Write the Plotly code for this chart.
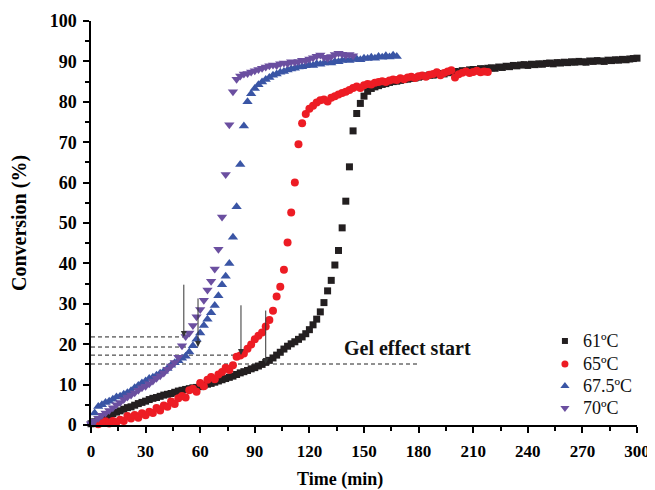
import plotly.graph_objects as go

# ---------------- data ----------------
t61 = list(range(0, 301, 2))
c61 = [0.3, 0.8, 1.2, 1.5, 2.0, 2.4, 2.8, 3.2, 3.5, 3.9, 4.3, 4.5, 4.9, 5.3, 5.6, 5.9, 6.3, 6.6, 6.8, 7.1,
       7.4, 7.6, 7.8, 8.1, 8.4, 8.6, 8.8, 9.0, 9.2, 9.3, 9.5, 9.8, 10.1, 10.3, 10.6, 10.9, 11.2, 11.5, 11.8, 12.1,
       12.5, 12.9, 13.2, 13.5, 13.9, 14.2, 14.6, 15.0, 15.5, 16.0, 16.6, 17.3, 18.0, 18.8, 19.5, 20.1, 20.6, 21.2, 21.8, 22.6,
       23.6, 24.8, 26.2, 28.0, 30.3, 33.2, 35.8, 39.6, 43.2, 48.8, 55.4, 63.9, 72.8, 77.1, 79.6, 81.4, 82.6, 83.3, 83.7, 84.0,
       84.3, 84.5, 84.8, 85.0, 85.1, 85.3, 85.5, 85.6, 85.8, 85.9, 86.1, 86.3, 86.4, 86.6, 86.6, 86.8, 87.0, 86.9, 87.2, 87.3,
       87.5, 87.4, 87.7, 87.6, 87.9, 88.0, 87.9, 88.2, 88.1, 88.3, 88.4, 88.3, 88.6, 88.5, 88.8, 88.7, 89.0, 88.9, 89.1, 89.2,
       89.0, 89.3, 89.2, 89.4, 89.3, 89.5, 89.6, 89.4, 89.7, 89.6, 89.8, 89.7, 89.9, 89.8, 90.0, 89.9, 89.8, 90.1, 90.0, 90.2,
       90.1, 90.0, 90.3, 90.2, 90.4, 90.3, 90.5, 90.4, 90.6, 90.7, 90.8]

t65 = list(range(4, 219, 2))
c65 = [0.2, 0.5, 0.9, 0.4, 1.0, 0.7, 1.3, 1.0, 2.2, 1.6, 2.5, 1.8, 2.9, 2.4, 3.3, 3.0, 4.2, 3.6, 4.8, 4.5,
       5.8, 5.2, 6.6, 7.2, 6.8, 8.6, 9.0, 8.2, 10.4, 9.6, 11.2, 11.9, 11.3, 12.5, 13.1, 14.2, 13.6, 14.8, 16.9, 17.2,
       17.7, 18.9, 19.9, 21.2, 22.1, 22.9, 24.4, 26.0, 28.3, 31.8, 34.2, 38.4, 45.2, 52.6, 60.0, 69.5, 74.7, 77.0, 78.3, 79.0,
       79.8, 80.4, 80.6, 80.1, 81.0, 81.4, 81.8, 82.2, 82.5, 82.9, 83.4, 83.8, 83.4, 84.1, 84.4, 84.3, 84.7, 84.9, 85.1, 84.9,
       85.3, 85.5, 85.4, 85.8, 85.6, 86.0, 86.2, 85.9, 86.3, 86.5, 86.2, 86.7, 86.9, 87.3, 86.6, 87.1, 87.5, 87.8, 86.0, 86.8,
       87.2, 87.5, 87.1, 87.4, 87.7, 87.3, 87.5, 87.4]

t675 = list(range(0, 169, 2))
c675 = [0.5, 3.0, 4.6, 5.0, 5.6, 5.9, 6.4, 6.9, 7.1, 7.6, 8.0, 8.5, 9.2, 9.8, 10.4, 10.9, 11.5, 11.8, 12.3, 12.8,
        13.3, 14.0, 14.8, 15.4, 15.9, 16.5, 17.0, 18.1, 19.6, 21.2, 22.8, 24.6, 26.2, 27.8, 29.6, 32.0, 34.7, 36.8, 40.0, 46.5,
        54.0, 64.5, 74.0, 80.0, 82.0, 83.3, 84.2, 84.9, 85.5, 86.0, 86.6, 86.9, 87.3, 87.5, 87.9, 88.1, 88.3, 88.6, 88.7, 88.9,
        89.1, 89.0, 89.4, 89.3, 89.6, 89.7, 89.6, 90.0, 89.9, 90.2, 90.4, 90.2, 90.5, 90.6, 90.4, 90.8, 90.7, 91.0, 90.8, 91.2,
        91.0, 91.4, 91.1, 91.5, 91.2]

t70 = list(range(0, 145, 2))
c70 = [0.3, 1.0, 1.7, 2.4, 3.0, 3.6, 4.3, 5.0, 5.6, 6.3, 6.9, 7.4, 8.0, 8.6, 9.2, 9.6, 10.2, 10.9, 11.6, 12.2,
       12.9, 13.8, 14.6, 15.5, 16.8, 19.6, 21.9, 22.8, 24.6, 26.8, 28.6, 30.9, 33.4, 35.6, 38.6, 43.5, 51.5, 62.0, 74.3, 82.5,
       85.6, 86.4, 86.9, 87.0, 87.4, 87.7, 88.0, 88.3, 88.6, 88.9, 89.1, 89.0, 89.4, 89.6, 89.5, 89.9, 89.8, 90.0, 90.3, 90.2,
       90.6, 90.9, 91.3, 91.6, 91.0, 90.8, 91.2, 91.7, 92.0, 91.8, 91.5, 91.7, 91.4]

series_names = ["61ºC", "65ºC", "67.5ºC", "70ºC"]

# gel-effect markers
gel_levels = [21.8, 19.3, 17.3, 15.1]
gel_line_end = [51, 58.8, 82.4, 180]
arrow_t = [51, 58.8, 82.4, 96]
arrow_top = [35.1, 31.7, 30.0, 28.7]

x_ticks = [0, 30, 60, 90, 120, 150, 180, 210, 240, 270, 300]
y_ticks = [0, 10, 20, 30, 40, 50, 60, 70, 80, 90, 100]

# ---------------- figure ----------------
FONT = "Liberation Serif, Times New Roman, serif"
styles = [
    dict(symbol="square", color="#231f20", size=7, lsize=6),
    dict(symbol="circle", color="#ed1c24", size=8, lsize=7),
    dict(symbol="triangle-up", color="#3a55a5", size=9, lsize=8),
    dict(symbol="triangle-down", color="#6b4fa0", size=9, lsize=8),
]

fig = go.Figure()

# dashed lines
for lvl, xe in zip(gel_levels, gel_line_end):
    fig.add_shape(type="line", x0=0, x1=xe, y0=lvl, y1=lvl, xref="x", yref="y",
                  line=dict(color="#222", width=1, dash="4px,3px"), layer="below")

for (tx, cy), name, st in zip([(t61, c61), (t65, c65), (t675, c675), (t70, c70)], series_names, styles):
    fig.add_trace(go.Scatter(
        x=tx, y=cy, mode="markers", name=name, cliponaxis=False, showlegend=False,
        marker=dict(symbol=st["symbol"], color=st["color"], size=st["size"], line=dict(width=0)),
    ))

# custom legend (markers on an overlay axis spanning the plot area, text as annotations)
leg_x_marker = 0.868
leg_x_text = 0.898
leg_rows = [0.208, 0.151, 0.0965, 0.042]
for name, st, ly in zip(series_names, styles, leg_rows):
    fig.add_trace(go.Scatter(
        x=[leg_x_marker], y=[ly], xaxis="x2", yaxis="y2", mode="markers", showlegend=False,
        hoverinfo="skip", cliponaxis=False,
        marker=dict(symbol=st["symbol"], color=st["color"], size=st["lsize"], line=dict(width=0)),
    ))
    fig.add_annotation(x=leg_x_text, y=ly, xref="paper", yref="paper", text=name,
                       xanchor="left", yanchor="middle", showarrow=False,
                       font=dict(family=FONT, size=18, color="#111"))

# arrows
for at, top, lvl in zip(arrow_t, arrow_top, gel_levels):
    fig.add_annotation(x=at, y=lvl, ax=at, ay=top, xref="x", yref="y", axref="x", ayref="y",
                       text="", showarrow=True, arrowhead=2, arrowsize=1.2, arrowwidth=1,
                       arrowcolor="#333")

fig.add_annotation(x=174, y=19.1, xref="x", yref="y", text="<b>Gel effect start</b>",
                   showarrow=False, font=dict(family=FONT, size=20, color="#111"))

# x-axis title (slightly left of centre, as in the reference)
fig.add_annotation(x=0.456, y=-0.136, xref="paper", yref="paper", text="<b>Time (min)</b>",
                   showarrow=False, xanchor="center", yanchor="middle",
                   font=dict(family=FONT, size=18, color="black"))

axis_common = dict(showline=True, linecolor="black", linewidth=1.5, ticks="outside",
                   ticklen=6, tickwidth=1.5, tickcolor="black", showgrid=False, zeroline=False,
                   mirror=False, automargin=False)

fig.update_layout(
    width=647, height=482,
    margin=dict(l=83, r=18, t=13, b=65),
    paper_bgcolor="white", plot_bgcolor="white",
    showlegend=False,
    xaxis=dict(range=[0, 300], tickvals=x_ticks, ticklabelstandoff=4,
               tickfont=dict(family=FONT, size=17, color="black", weight="bold"),
               minor=dict(dtick=15, ticks="outside", ticklen=4, tickwidth=1.5, tickcolor="black"),
               **axis_common),
    yaxis=dict(range=[0, 100], tickvals=y_ticks, ticklabelstandoff=3,
               tickfont=dict(family=FONT, size=18, color="black", weight="bold"),
               title=dict(text="<b>Conversion (%)</b>", standoff=30,
                          font=dict(family=FONT, size=20, color="black")),
               minor=dict(dtick=5, ticks="outside", ticklen=4, tickwidth=1.5, tickcolor="black"),
               **axis_common),
    xaxis2=dict(range=[0, 1], overlaying="x", visible=False, fixedrange=True),
    yaxis2=dict(range=[0, 1], overlaying="y", visible=False, fixedrange=True),
)

fig.write_html("out.html")
